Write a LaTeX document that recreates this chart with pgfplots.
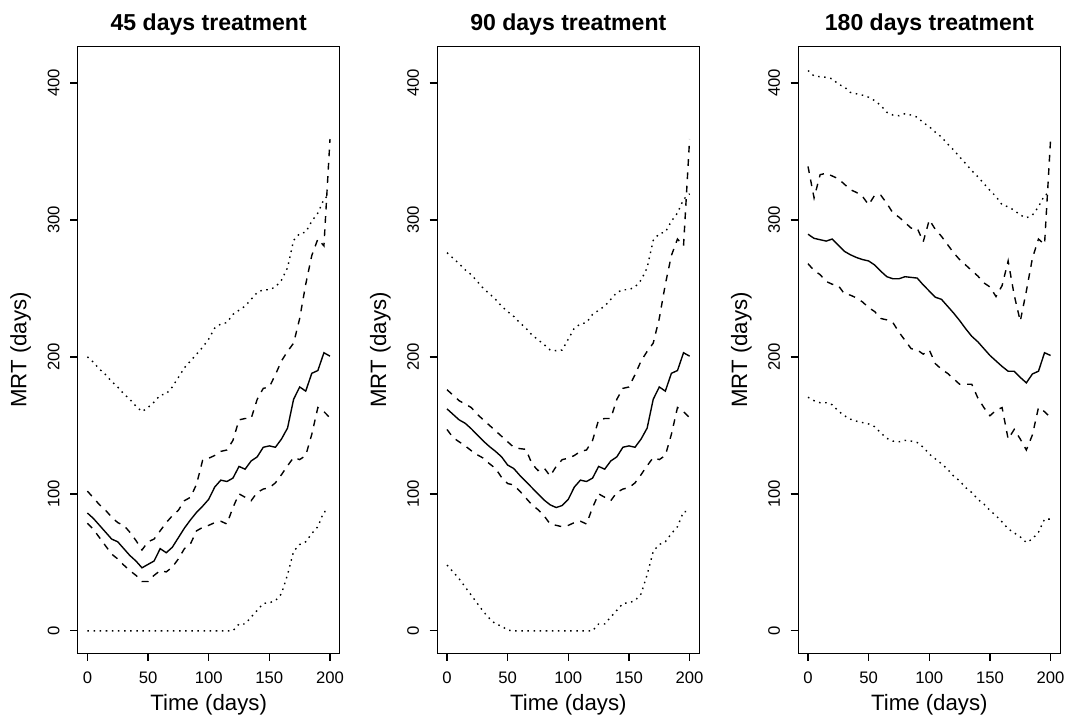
\documentclass[border=0pt]{standalone}
\usepackage{fontspec}
\setmainfont{Liberation Sans}
\usepackage{pgfplots}
\usepackage{pgfplotstable}
\pgfplotsset{compat=1.18}

% columns: t, lower dotted, lower dashed, median, upper dashed, upper dotted
\pgfplotstableread{
t   lo2   lo1    mid    hi1   hi2
0   0     78.5   86     102   200
5   0     74     82     97    196
10  0     68     77     92    191
15  0     62     72     88    187
20  0     56     67     83    182
25  0     52.5   65     79    178
30  0     48     60     77    173
35  0     44     55     72    169
40  0     40.5   51     66    164
45  0     36     46     59    160
50  0     36     48.5   65    163
55  0     40.5   51     67    167
60  0     44     60     73    172
65  0     43     57     79    173
70  0     46.5   61     84    178
75  0     52.5   68     88    185
80  0     60     75     95    192
85  0     63.5   81     97.5  197
90  0     73     86.5   107   202
95  0     75.5   91     124.5 207
100 0     77     96     126   213
105 0     79     105    128   221
110 0     80     110    131   224
115 0     78     109    132   225
120 0     90     111.5  139   231
125 5     100    120    154   234
130 5     97.5   118    155   237
135 10    95     124    155   242
140 15    101    127    169   247
145 20    103.5  134    177   249
150 20.5  104.5  135    178   249
155 22    108    134    187   251
160 27    114    140    197   256
165 41    120.5  148    204   265
170 58    126.5  169    210   285
175 63    125    178    228   290
180 65    128    175    253   291
185 71    143.5  188    274   299
190 76    163    190    286   305
195 87    160    203    281   315
200 87    155.5  200.5  359   319
}\tabA

\pgfplotstableread{
t   lo2   lo1    mid    hi1   hi2
0   48    147    162    176   276
5   43    141    158    172   272
10  38    138    154    168   268
15  32    135    151.5  165.5 263.5
20  26    131.5  147.5  163   260
25  20    128.5  143    158   255
30  14    126    138.5  154   250
35  9     122    134.5  150   246
40  5     118.5  131    146   242
45  3.5   112    127    142   237
50  0.5   107.5  121    138   233
55  0     106.5  118.5  134   229.5
60  0     102    113.5  133   225
65  0     97     109    132.5 221
70  0     92     104.5  122   216
75  0     88.5   100    117   212.5
80  0     84     95.5   119   209
85  0     78     92     113   205
90  0     77     90     120   204.5
95  0     76     91.5   125   205
100 0     77     96     126   213
105 0     79     105    128   221
110 0     80     110    131   224
115 0     78     109    132   225
120 0     90     111.5  139   231
125 5     100    120    154   234
130 5     97.5   118    155   237
135 10    95     124    155   242
140 15    101    127    169   247
145 20    103.5  134    177   249
150 20.5  104.5  135    178   249
155 22    108    134    187   251
160 27    114    140    197   256
165 41    120.5  148    204   265
170 58    126.5  169    210   285
175 63    125    178    228   290
180 65    128    175    253   291
185 71    143.5  188    274   299
190 76    163    190    286   305
195 87    160    203    281   315
200 87    155.5  200.5  359   319
}\tabB

\pgfplotstableread{
t   lo2   lo1    mid    hi1   hi2
0   170.5 268    289.5  339   409
5   168   263    286.5  316   405
10  166.5 260    285.5  333   404.5
15  166.5 255    284.5  334   404
20  165   253    286    332   403
25  160.5 252    281.5  330   399
30  157   246    277    326   397
35  154.5 245    274.5  322   393
40  153   243    272.5  320   392
45  152   240    271    317   391
50  151   236    270    311   389.5
55  149   233    267    318   387
60  144.5 228    262.5  318   383.5
65  140.5 227    258.5  312   378.5
70  138.5 225    257    305   376.5
75  138   218    257    302   376
80  139   212    258.5  298   377.5
85  138.5 206    258    294   376.5
90  137.5 205    257.5  294   375
95  134   202    252.5  284   371
100 129   205    248    300   368
105 125.5 195    243.5  293   364
110 122   191    242    288   360.5
115 118   188    237    282   355.5
120 113   184    232    276   351
125 109.5 180    226.5  271   346
130 104.5 180    220.5  267   341
135 101   180    215    263   336
140 96    170    211    259   331.5
145 92.5  163    206    254   326.5
150 88    157    201    251   321.5
155 84    161    197    244   317
160 79.5  163    193    252   311
165 74.5  140    189.5  270   309.5
170 71.5  147    189.5  245   307
175 68.5  140    185    226   303.5
180 64.5  132    181    248   301.5
185 67    143    187.5  272   303.5
190 72    163    189.5  286   309.5
195 81.5  160    203    282   318
200 81.5  155.5  201    359   320
}\tabC

\pgfplotsset{
  mrt/.style={
    scale only axis,
    width=188.64pt, height=436.75pt,
    anchor=south west,
    xmin=-8, xmax=208, ymin=-16.4, ymax=426.4,
    xtick={0,50,100,150,200},
    ytick={0,100,200,300,400},
    tick align=outside,
    xtick pos=bottom, ytick pos=left,
    major tick length=5.5pt,
    axis line style={line width=0.95pt},
    every tick/.style={black, line width=0.95pt},
    /pgf/number format/assume math mode=true,
    ticklabel style={font=\fontsize{12}{14.4}\selectfont},
    xticklabel style={anchor=base},
    xticklabel shift={16.1pt},
    yticklabel style={rotate=90, anchor=base},
    yticklabel shift={7.7pt},
    title style={at={(axis description cs:0.5,1)}, anchor=base, yshift=6pt,
                 font=\fontsize{16.6}{20}\selectfont\bfseries},
    xlabel style={at={(axis description cs:0.5,0)}, anchor=base, yshift=-41.5pt,
                  font=\fontsize{16}{19.2}\selectfont},
    ylabel style={at={(axis description cs:-0.1956,0.5)}, anchor=base, rotate=0,
                  font=\fontsize{16}{19.2}\selectfont},
    xlabel={Time (days)}, ylabel={MRT (days)},
  },
  line/.style={black, solid, no markers, line width=1pt},
  dash/.style={line, dash pattern=on 4.8pt off 4.8pt},
  dot/.style={line, dash pattern=on 1.1pt off 3.3pt},
}

\begin{document}
\begin{tikzpicture}
\path[use as bounding box] (0,0) rectangle (768.96pt,519.12pt);

\begin{axis}[mrt, at={(55.94pt,48.74pt)}, title={45 days treatment}]
  \addplot[dot]  table[x=t, y=lo2] {\tabA};
  \addplot[dash] table[x=t, y=lo1] {\tabA};
  \addplot[line] table[x=t, y=mid] {\tabA};
  \addplot[dash] table[x=t, y=hi1] {\tabA};
  \addplot[dot]  table[x=t, y=hi2] {\tabA};
\end{axis}

\begin{axis}[mrt, at={(314.86pt,48.74pt)}, title={90 days treatment}]
  \addplot[dot]  table[x=t, y=lo2] {\tabB};
  \addplot[dash] table[x=t, y=lo1] {\tabB};
  \addplot[line] table[x=t, y=mid] {\tabB};
  \addplot[dash] table[x=t, y=hi1] {\tabB};
  \addplot[dot]  table[x=t, y=hi2] {\tabB};
\end{axis}

\begin{axis}[mrt, at={(574.78pt,48.74pt)}, title={180 days treatment}]
  \addplot[dot]  table[x=t, y=lo2] {\tabC};
  \addplot[dash] table[x=t, y=lo1] {\tabC};
  \addplot[line] table[x=t, y=mid] {\tabC};
  \addplot[dash] table[x=t, y=hi1] {\tabC};
  \addplot[dot]  table[x=t, y=hi2] {\tabC};
\end{axis}
\end{tikzpicture}
\end{document}
